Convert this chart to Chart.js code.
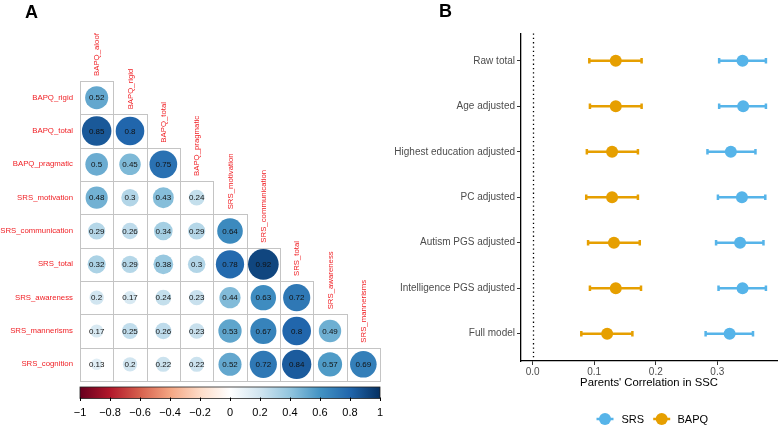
<!DOCTYPE html>
<html><head><meta charset="utf-8">
<script src="https://cdn.jsdelivr.net/npm/chart.js@4.4.0/dist/chart.umd.min.js"></script>
<style>
html,body{margin:0;padding:0;background:#fff;width:778px;height:426px;overflow:hidden;}
canvas{position:absolute;top:0;}
#a{left:0;}
#b{left:385px;}
</style></head><body>
<canvas id="a" width="385" height="426"></canvas>
<canvas id="b" width="393" height="426"></canvas>
<script>
// ---------- Panel A data ----------
const rowLabels = ['BAPQ_rigid','BAPQ_total','BAPQ_pragmatic','SRS_motivation','SRS_communication','SRS_total','SRS_awareness','SRS_mannerisms','SRS_cognition'];
const colLabels = ['BAPQ_aloof','BAPQ_rigid','BAPQ_total','BAPQ_pragmatic','SRS_motivation','SRS_communication','SRS_total','SRS_awareness','SRS_mannerisms'];
const corrRows = [
  [0.52],
  [0.85, 0.8],
  [0.5, 0.45, 0.75],
  [0.48, 0.3, 0.43, 0.24],
  [0.29, 0.26, 0.34, 0.29, 0.64],
  [0.32, 0.29, 0.38, 0.3, 0.78, 0.92],
  [0.2, 0.17, 0.24, 0.23, 0.44, 0.63, 0.72],
  [0.17, 0.25, 0.26, 0.23, 0.53, 0.67, 0.8, 0.49],
  [0.13, 0.2, 0.22, 0.22, 0.52, 0.72, 0.84, 0.57, 0.69]
];
const colorbarTicks = [-1,-0.8,-0.6,-0.4,-0.2,0,0.2,0.4,0.6,0.8,1];
const colorbarTickLabels = ['\u22121','\u22120.8','\u22120.6','\u22120.4','\u22120.2','0','0.2','0.4','0.6','0.8','1'];
const palette = ['#67001F','#B2182B','#D6604D','#F4A582','#FDDBC7','#FFFFFF','#D1E5F0','#92C5DE','#4393C3','#2166AC','#053061'];

// ---------- Panel B data ----------
const categories = ['Raw total','Age adjusted','Highest education adjusted','PC adjusted','Autism PGS adjusted','Intelligence PGS adjusted','Full model'];
const srsEst  = [0.341, 0.342, 0.322, 0.340, 0.337, 0.341, 0.320];
const srsLow  = [0.303, 0.303, 0.284, 0.301, 0.298, 0.302, 0.281];
const srsHigh = [0.379, 0.379, 0.362, 0.378, 0.375, 0.379, 0.358];
const bapqEst  = [0.135, 0.135, 0.129, 0.129, 0.132, 0.135, 0.121];
const bapqLow  = [0.092, 0.093, 0.088, 0.087, 0.090, 0.093, 0.079];
const bapqHigh = [0.177, 0.177, 0.171, 0.171, 0.174, 0.176, 0.162];
const xTicks = [0, 0.1, 0.2, 0.3];
const xTickLabels = ['0.0','0.1','0.2','0.3'];
const seriesNames = ['SRS','BAPQ'];

const FAM = '"Liberation Sans", Arial, Helvetica, sans-serif';
Chart.defaults.font.family = FAM;

function hexToRgb(h){return [parseInt(h.slice(1,3),16),parseInt(h.slice(3,5),16),parseInt(h.slice(5,7),16)];}
function corrColor(v){
  const t = (v+1)/2*(palette.length-1);
  const i = Math.min(palette.length-2, Math.floor(t));
  const f = t - i;
  const a = hexToRgb(palette[i]), b = hexToRgb(palette[i+1]);
  const c = a.map((x,k)=>Math.round(x+(b[k]-x)*f));
  return `rgb(${c[0]},${c[1]},${c[2]})`;
}

// ---------- Chart A ----------
const cellData = [];
corrRows.forEach((row,i)=>row.forEach((v,j)=>cellData.push({x:j+0.5, y:i+0.5, v:v})));

function bubbleRadius(c){
  const xs = c.chart.scales && c.chart.scales.x;
  if (!xs || !c.raw) return 0;
  const cw = Math.abs(xs.getPixelForValue(1) - xs.getPixelForValue(0));
  return 0.48*cw*Math.sqrt(Math.abs(c.raw.v));
}

const corrPlugin = {
  id:'corrPlugin',
  beforeDatasetsDraw(chart){
    const ctx = chart.ctx, xs = chart.scales.x, ys = chart.scales.y, cb = chart.scales.cb;
    ctx.save();
    // cell borders
    ctx.strokeStyle = '#c4c4c4'; ctx.lineWidth = 1;
    corrRows.forEach((row,i)=>row.forEach((v,j)=>{
      const x0 = Math.round(xs.getPixelForValue(j))+0.5, x1 = Math.round(xs.getPixelForValue(j+1))+0.5;
      const y0 = Math.round(ys.getPixelForValue(i))+0.5, y1 = Math.round(ys.getPixelForValue(i+1))+0.5;
      ctx.strokeRect(x0,y0,x1-x0,y1-y0);
    }));
    // row labels
    ctx.fillStyle = '#f01e23'; ctx.font = '7.8px '+FAM;
    ctx.textAlign = 'right'; ctx.textBaseline = 'middle';
    rowLabels.forEach((l,i)=>{
      ctx.fillText(l, xs.getPixelForValue(0)-7, ys.getPixelForValue(i+0.5));
    });
    // column labels
    ctx.textAlign = 'left';
    colLabels.forEach((l,j)=>{
      ctx.save();
      ctx.translate(xs.getPixelForValue(j+0.5)+0.5, ys.getPixelForValue(j)-5);
      ctx.rotate(-Math.PI/2);
      ctx.fillText(l,0,0);
      ctx.restore();
    });
    // colorbar
    const bx0 = cb.getPixelForValue(-1), bx1 = cb.getPixelForValue(1);
    const by0 = chart.chartArea.bottom+6, by1 = chart.chartArea.bottom+17.5;
    const g = ctx.createLinearGradient(bx0,0,bx1,0);
    palette.forEach((c,k)=>g.addColorStop(k/(palette.length-1), c));
    ctx.fillStyle = g;
    ctx.fillRect(bx0,by0,bx1-bx0,by1-by0);
    ctx.strokeStyle = '#222'; ctx.lineWidth = 0.8;
    ctx.strokeRect(bx0,by0,bx1-bx0,by1-by0);
    ctx.lineWidth = 1; ctx.strokeStyle = '#000';
    colorbarTicks.forEach(v=>{
      const px = Math.round(cb.getPixelForValue(v))+0.5;
      ctx.beginPath(); ctx.moveTo(px,by1-1); ctx.lineTo(px,by1+2.5); ctx.stroke();
    });
    // panel letter
    ctx.fillStyle = '#000'; ctx.font = 'bold 18px '+FAM;
    ctx.textAlign = 'left'; ctx.textBaseline = 'alphabetic';
    ctx.fillText('A', 25, 18);
    ctx.restore();
  },
  afterDatasetsDraw(chart){
    const ctx = chart.ctx;
    const meta = chart.getDatasetMeta(0);
    ctx.save();
    ctx.fillStyle = '#111'; ctx.font = '8px '+FAM;
    ctx.textAlign = 'center'; ctx.textBaseline = 'middle';
    meta.data.forEach((pt,k)=>{
      ctx.fillText(String(cellData[k].v), pt.x, pt.y+0.5);
    });
    ctx.restore();
  }
};

new Chart(document.getElementById('a'), {
  type:'scatter',
  data:{datasets:[{
    data: cellData,
    pointRadius: bubbleRadius,
    pointHoverRadius: bubbleRadius,
    backgroundColor: c => (c.raw ? corrColor(c.raw.v) : '#fff'),
    borderWidth:0, pointBorderWidth:0
  }]},
  options:{
    responsive:false, animation:false, events:[],
    layout:{autoPadding:false, padding:{left:80, top:81, right:5, bottom:0}},
    plugins:{legend:{display:false}, tooltip:{enabled:false}},
    scales:{
      x:{type:'linear', min:0, max:9, display:false},
      y:{type:'linear', min:0, max:9, reverse:true, display:false},
      cb:{type:'linear', axis:'x', position:'bottom', min:-1, max:1,
        afterBuildTicks: s => { s.ticks = colorbarTicks.map(v=>({value:v})); },
        afterFit: s => { s.height = 45; },
        ticks:{callback:(v,i)=>colorbarTickLabels[i], color:'#000', font:{size:11}, padding:0, autoSkip:false, maxRotation:0},
        grid:{display:true, drawOnChartArea:false, drawTicks:true, tickLength:25, color:'rgba(0,0,0,0)'},
        border:{display:false}
      }
    }
  },
  plugins:[corrPlugin]
});

// ---------- Chart B ----------
const seriesColors = ['#56B4E9','#E69F00'];
const estSets = [srsEst, bapqEst], lowSets = [srsLow, bapqLow], highSets = [srsHigh, bapqHigh];

const forestPlugin = {
  id:'forestPlugin',
  beforeDatasetsDraw(chart){
    const ctx = chart.ctx, xs = chart.scales.x, ys = chart.scales.y, ca = chart.chartArea;
    ctx.save();
    ctx.strokeStyle = '#000'; ctx.lineWidth = 1.3; ctx.setLineDash([1.3,3]);
    const zx = Math.round(xs.getPixelForValue(0))+0.5;
    ctx.beginPath(); ctx.moveTo(zx, ca.top); ctx.lineTo(zx, ca.bottom); ctx.stroke();
    ctx.setLineDash([]);
    ctx.lineWidth = 2.5;
    [0,1].forEach(s=>{
      ctx.strokeStyle = seriesColors[s];
      categories.forEach((c,i)=>{
        const y = ys.getPixelForValue(i);
        const x1 = xs.getPixelForValue(lowSets[s][i]), x2 = xs.getPixelForValue(highSets[s][i]);
        ctx.beginPath();
        ctx.moveTo(x1,y); ctx.lineTo(x2,y);
        ctx.moveTo(x1,y-2.8); ctx.lineTo(x1,y+2.8);
        ctx.moveTo(x2,y-2.8); ctx.lineTo(x2,y+2.8);
        ctx.stroke();
      });
    });
    ctx.restore();
  },
  afterDraw(chart){
    const ctx = chart.ctx, ca = chart.chartArea;
    const mid = (ca.left+ca.right)/2;
    ctx.save();
    ctx.fillStyle = '#000'; ctx.font = 'bold 18px '+FAM;
    ctx.textAlign = 'left'; ctx.textBaseline = 'alphabetic';
    ctx.fillText('B', 54, 17);
    const ly = 419;
    const glyphX = [mid-44, mid+12.7];
    const textX = [mid-27.5, mid+28.5];
    ctx.font = '11px '+FAM; ctx.textBaseline = 'middle';
    [0,1].forEach(s=>{
      ctx.strokeStyle = seriesColors[s]; ctx.fillStyle = seriesColors[s]; ctx.lineWidth = 2.5;
      ctx.beginPath(); ctx.moveTo(glyphX[s]-8.5, ly); ctx.lineTo(glyphX[s]+8.5, ly); ctx.stroke();
      ctx.beginPath(); ctx.arc(glyphX[s], ly, 6, 0, Math.PI*2); ctx.fill();
      ctx.fillStyle = '#000';
      ctx.fillText(seriesNames[s], textX[s], ly+0.5);
    });
    ctx.restore();
  }
};

new Chart(document.getElementById('b'), {
  type:'scatter',
  data:{datasets:[0,1].map(s=>({
    label: seriesNames[s],
    data: estSets[s].map((v,i)=>({x:v, y:i})),
    backgroundColor: seriesColors[s],
    pointRadius:6, pointHoverRadius:6, borderWidth:0, pointBorderWidth:0
  }))},
  options:{
    responsive:false, animation:false, events:[],
    layout:{autoPadding:false, padding:{left:0, top:33.5, right:1, bottom:0}},
    plugins:{legend:{display:false}, tooltip:{enabled:false}},
    scales:{
      x:{type:'linear', position:'bottom', min:-0.019, max:0.397,
        afterBuildTicks: s => { s.ticks = xTicks.map(v=>({value:v})); },
        afterFit: s => { s.height = 65; },
        ticks:{callback:(v,i)=>xTickLabels[i], color:'#4d4d4d', font:{size:10}, padding:1, autoSkip:false, maxRotation:0},
        grid:{drawOnChartArea:false, drawTicks:true, tickLength:4, color:'#333', lineWidth:1},
        border:{display:true, color:'#000', width:1.3},
        title:{display:true, text:"Parents' Correlation in SSC", color:'#000', font:{size:11.3}, padding:{top:0, bottom:36.2}}
      },
      y:{type:'linear', position:'left', min:-0.6, max:6.6, reverse:true,
        afterBuildTicks: s => { s.ticks = categories.map((c,i)=>({value:i})); },
        afterFit: s => { s.width = 136; },
        ticks:{callback:(v,i)=>categories[i], color:'#4d4d4d', font:{size:10}, padding:2, autoSkip:false},
        grid:{drawOnChartArea:false, drawTicks:true, tickLength:4, color:'#333', lineWidth:1},
        border:{display:true, color:'#000', width:1.3}
      }
    }
  },
  plugins:[forestPlugin]
});
</script>
</body></html>
